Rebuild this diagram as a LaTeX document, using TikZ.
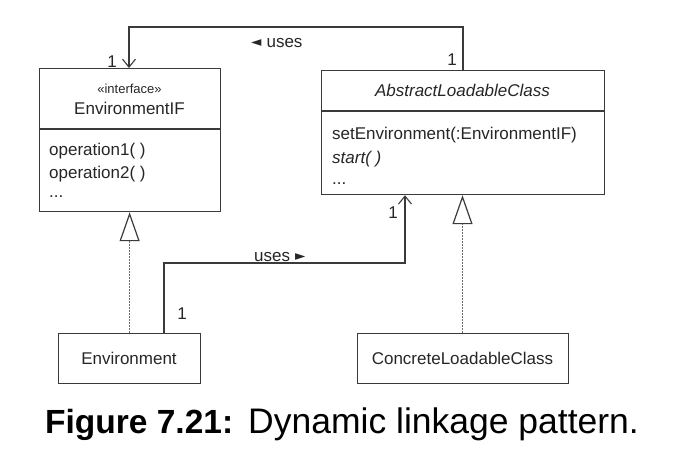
\documentclass[tikz,border=0pt]{standalone}
\usepackage{fontspec}
\setmainfont{Liberation Sans}
\newfontfamily\symfont{DejaVu Sans}
\newcommand\trisym{\symfont\fontsize{13.5}{15}\selectfont}
\usetikzlibrary{arrows.meta,calc}
\definecolor{linec}{HTML}{3A3A3A}
\definecolor{textc}{HTML}{262626}
\tikzset{
  umlbox/.style={draw=linec, line width=1.2pt, rectangle, inner sep=0pt, anchor=north west},
  divider/.style={draw=linec, line width=1.2pt},
  lbl/.style={inner sep=0pt, text=textc, font=\fontsize{17}{20}\selectfont},
  small/.style={inner sep=0pt, text=textc, font=\fontsize{13}{15}\selectfont},
  assoc/.style={draw=linec, line width=1.1pt, -{Straight Barb[length=8pt,width=13pt,line width=1.1pt]}},
  realize/.style={draw=linec!75, line width=1.5pt, dash pattern=on 2pt off 1pt, -{Triangle[open, length=29pt, width=20pt, line width=1.2pt, fill=white, color=linec]}},
}
\begin{document}
\begin{tikzpicture}[x=1pt,y=-1pt]
\useasboundingbox (0,0) rectangle (698,472);
% boxes
\node[umlbox, minimum width=181pt, minimum height=143pt] (envif) at (39,68) {};
\draw[divider] ($(envif.north west)+(0,61)$) -- ($(envif.north east)+(0,61)$);
\node[umlbox, minimum width=283pt, minimum height=124pt] (abs) at (321,70) {};
\draw[divider] ($(abs.north west)+(0,41)$) -- ($(abs.north east)+(0,41)$);
\node[umlbox, minimum width=142pt, minimum height=50pt] (env) at (58,333) {};
\node[umlbox, minimum width=211pt, minimum height=50pt] (conc) at (357,333) {};
% texts
\node[small, anchor=base] (st) at (129.5,93) {«interface»};
\node[lbl, anchor=base] (envifname) at (129.5,114) {EnvironmentIF};
\node[lbl, anchor=base west] (op1) at (49,155) {operation1( )};
\node[lbl, anchor=base west] (op2) at (49,178) {operation2( )};
\node[lbl, anchor=base west] (op3) at (49,197) {...};
\node[lbl, anchor=base] (absname) at (462.5,96) {\itshape AbstractLoadableClass};
\node[lbl, anchor=base west] (a1) at (332,139) {setEnvironment(:EnvironmentIF)};
\node[lbl, anchor=base west] (a2) at (332,163) {\itshape start( )};
\node[lbl, anchor=base west] (a3) at (332,184) {...};
\node[lbl, anchor=base] (envname) at (129,364) {Environment};
\node[lbl, anchor=base] (concname) at (462.5,364) {ConcreteLoadableClass};
% connectors
\draw[assoc] ($(abs.north west)+(142,0)$) -- ++(0,-43) -| ($(envif.north west)+(90,0)$);
\draw[assoc] ($(env.north west)+(106,0)$) -- ++(0,-70) -| ($(abs.south west)+(84,0)$);
\draw[realize] (env.north) -- (envif.south -| env.north);
\draw[realize] ($(conc.north west)+(105.5,0)$) -- ($(abs.south west)+(141.5,0)$);
% labels
\node[lbl, anchor=base] (m1) at (112,67) {1};
\node[lbl, anchor=base] (m2) at (452,65) {1};
\node[lbl, anchor=base] (m3) at (182,319) {1};
\node[lbl, anchor=base] (m4) at (393,218) {1};
\node[lbl, anchor=base west] (u1) at (251,47) {{\trisym\raisebox{0.3pt}{◄}}\hspace{5pt}uses};
\node[lbl, anchor=base west] (u2) at (254,261) {uses\hspace{5pt}{\trisym\raisebox{0.3pt}{►}}};
% caption
\node[inner sep=0pt, anchor=base west, font=\fontsize{33.5}{40}\selectfont] (cap) at (45,433.5) {\textbf{Figure 7.21:}\hspace{15pt}{\fontsize{35.5}{40}\selectfont Dynamic linkage pattern.}};
\end{tikzpicture}
\end{document}
